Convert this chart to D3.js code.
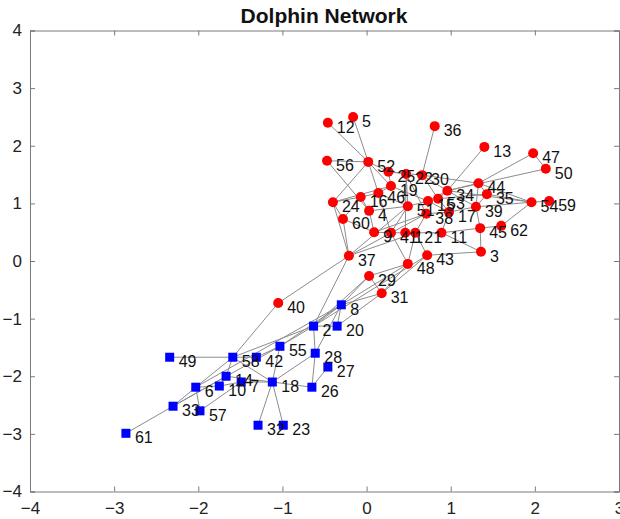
<!DOCTYPE html>
<html><head><meta charset="utf-8">
<script src="https://cdn.jsdelivr.net/npm/d3@7"></script>
<style>body{margin:0;background:#fff}svg{display:block}text{font-family:Arial,"Liberation Sans",sans-serif}</style>
</head><body><svg id="chart" width="620" height="519"></svg>
<script>
// Node ids, layout coordinates and group (1 = red circle, 2 = blue square)
const nodeIds = d3.range(1, 63);
const nodeX = [0.46,-0.63,1.36,0.03,-0.16,-2.03,-1.49,-0.30,0.09,-1.75,0.89,-0.46,1.40,-1.67,0.73,-0.07,0.98,-1.12,0.29,-0.35,0.58,0.47,-0.99,-0.40,0.26,-0.65,-0.46,-0.61,0.03,0.66,0.18,-1.29,-2.30,0.96,1.43,0.81,-0.21,0.71,1.30,-1.05,0.29,-1.31,0.72,1.33,1.35,0.14,1.98,0.49,-2.34,2.13,0.49,0.02,0.85,1.96,-1.03,-0.47,-1.98,-1.59,2.17,-0.28,-2.86,1.60];
const nodeY = [0.49,-1.13,0.16,0.87,2.50,-2.19,-2.10,-0.76,0.50,-2.17,0.49,2.40,1.98,-2.00,1.04,1.11,0.85,-2.10,1.30,-1.13,0.49,1.51,-2.85,1.02,1.55,-2.19,-1.84,-1.60,-0.26,1.49,-0.56,-2.85,-2.52,1.22,1.16,2.34,0.09,0.82,0.94,-0.73,0.49,-1.67,0.10,1.35,0.57,1.18,1.87,-0.05,-1.67,1.60,0.95,1.72,1.08,1.02,-1.48,1.74,-2.60,-1.67,1.04,0.73,-2.99,0.61];
const nodeGroup = [1,2,1,1,1,2,2,2,1,2,1,1,1,2,1,1,1,2,1,2,1,1,2,1,1,2,2,2,1,1,1,2,2,1,1,1,1,1,1,1,1,2,1,1,1,1,1,1,2,1,1,1,1,1,2,1,2,2,1,1,2,1];
// Edges as [source, target] node ids
const edges = [
 [49,58],[58,14],[58,6],[58,42],[42,55],[58,18],[14,18],[14,10],[6,10],[10,7],[7,18],[6,57],[33,61],[33,6],[33,14],[57,7],
 [18,32],[18,23],[18,26],[18,55],[18,28],[26,28],[26,27],[28,2],[28,8],[2,20],[2,8],[20,8],[2,55],[55,8],[58,2],[40,58],[40,37],[33,55],[6,8],
 [2,37],[2,29],[8,31],[8,29],[8,48],[20,31],[2,43],
 [12,52],[5,52],[56,52],[56,4],[52,24],[52,25],[52,19],[52,46],[36,30],[25,30],[25,19],[19,46],[19,24],[16,46],[16,60],[16,24],
 [24,37],[24,60],[60,37],[60,9],[4,9],[4,16],[4,51],[46,51],[19,15],[22,38],[22,51],[30,34],[30,44],[30,53],[34,53],[34,44],[34,54],
 [34,15],[34,39],[13,34],[47,50],[47,44],[50,34],[44,39],[44,54],[35,54],[35,39],[35,53],[39,54],[39,17],[39,45],[45,62],[54,62],[54,59],
 [11,45],[45,3],[43,3],[11,3],[11,1],[1,21],[21,41],[41,9],[9,38],[41,51],[21,38],[17,38],[17,15],[17,53],[51,15],[37,38],[37,51],
 [37,21],[48,29],[48,41],[48,21],[48,31],[43,21],[43,31],[29,31],[22,25],[22,1],[46,41],[11,17],[44,35]
];

const svg = d3.select('#chart');
const x = d3.scaleLinear().domain([-4, 3]).range([30, 619]);
const y = d3.scaleLinear().domain([-4, 4]).range([491.5, 30.5]);
const xTicks = d3.range(-4, 4);
const yTicks = d3.range(-4, 5);
const frame = '#7a7a7a';

const nodes = nodeIds.map((id, i) => ({id, x: nodeX[i], y: nodeY[i], g: nodeGroup[i]}));
const byId = new Map(nodes.map(n => [n.id, n]));

// edges
svg.append('g').selectAll('line').data(edges).join('line')
  .attr('x1', d => x(byId.get(d[0]).x)).attr('y1', d => y(byId.get(d[0]).y))
  .attr('x2', d => x(byId.get(d[1]).x)).attr('y2', d => y(byId.get(d[1]).y))
  .attr('stroke', '#8c8c8c').attr('stroke-width', 1);

// axes (box with inward ticks)
const axB = d3.axisBottom(x).tickValues(xTicks).tickSize(-5).tickPadding(10).tickFormat(d3.format('d'));
const axT = d3.axisTop(x).tickValues(xTicks).tickSize(-5).tickFormat('');
const axL = d3.axisLeft(y).tickValues(yTicks).tickSize(-5).tickPadding(8).tickFormat(d3.format('d'));
const axR = d3.axisRight(y).tickValues(yTicks).tickSize(-5).tickFormat('');
function style(g){ g.select('.domain').attr('stroke', frame); g.selectAll('.tick line').attr('stroke', frame);
  g.selectAll('.tick text').attr('fill', '#222').style('font-size', '17px').style('font-family','Arial, "Liberation Sans", sans-serif'); }
svg.append('g').attr('transform', 'translate(0,491.5)').call(axB).call(style);
svg.append('g').attr('transform', 'translate(0,30.5)').call(axT).call(style);
svg.append('g').attr('transform', 'translate(30,0)').call(axL).call(style);
svg.append('g').attr('transform', 'translate(619,0)').call(axR).call(style);

// nodes
const ng = svg.append('g');
ng.selectAll('circle').data(nodes.filter(n => n.g === 1)).join('circle')
  .attr('cx', d => x(d.x)).attr('cy', d => y(d.y)).attr('r', 5).attr('fill', '#ff0000');
ng.selectAll('rect').data(nodes.filter(n => n.g === 2)).join('rect')
  .attr('x', d => x(d.x) - 4.5).attr('y', d => y(d.y) - 4.5).attr('width', 9).attr('height', 9).attr('fill', '#0000ff');
ng.selectAll('text').data(nodes).join('text')
  .attr('x', d => x(d.x) + 9).attr('y', d => y(d.y) + 10)
  .style('font-size', '16px').attr('fill', '#111').text(d => d.id);

svg.append('text').attr('x', 324).attr('y', 23).attr('text-anchor', 'middle')
  .style('font-size', '21px').style('font-weight', 'bold').attr('fill', '#111').text('Dolphin Network');
</script></body></html>
